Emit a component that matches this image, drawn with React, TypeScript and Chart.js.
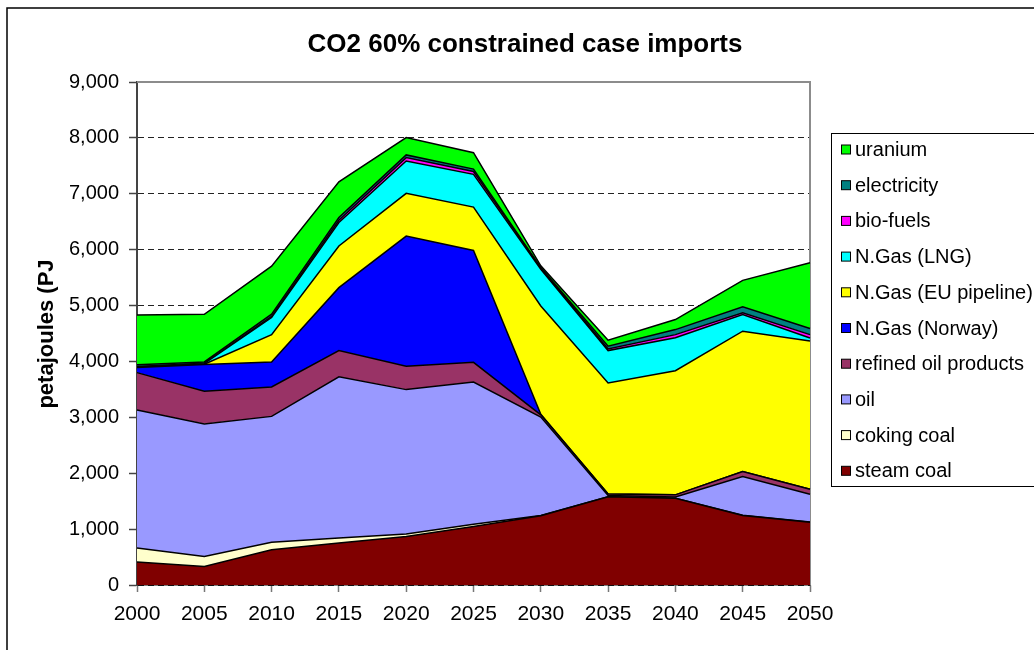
import React, { useEffect, useRef } from "react";
import { Chart, registerables } from "chart.js";

Chart.register(...registerables);

const years = ["2000", "2005", "2010", "2015", "2020", "2025", "2030", "2035", "2040", "2045", "2050"];

const steamCoal = [410, 330, 630, 750, 866, 1045, 1240, 1580, 1553, 1242, 1124];
const cokingCoal = [250, 180, 135, 90, 45, 43, 5, 0, 0, 5, 5];
const oil = [2470, 2373, 2252, 2885, 2585, 2544, 1760, 20, 20, 695, 496];
const refinedOil = [670, 585, 526, 471, 418, 352, 40, 30, 40, 90, 90];
const norway = [90, 478, 447, 1124, 2329, 2002, 10, 0, 0, 0, 0];
const euPipeline = [0, 5, 490, 746, 765, 776, 1938, 1985, 2222, 2509, 2650];
const lng = [10, 10, 305, 419, 579, 586, 657, 579, 590, 299, 55];
const bioFuels = [10, 5, 20, 40, 60, 50, 20, 30, 55, 30, 60];
const electricity = [30, 25, 40, 50, 48, 43, 10, 50, 90, 110, 110];
const uranium = [890, 852, 860, 639, 311, 295, 30, 105, 179, 471, 1175];

const seriesNames = [
  "steam coal",
  "coking coal",
  "oil",
  "refined oil products",
  "N.Gas (Norway)",
  "N.Gas (EU pipeline)",
  "N.Gas (LNG)",
  "bio-fuels",
  "electricity",
  "uranium",
];
const seriesData = [steamCoal, cokingCoal, oil, refinedOil, norway, euPipeline, lng, bioFuels, electricity, uranium];
const seriesColors = [
  "#800000",
  "#FFFFCC",
  "#9999FF",
  "#993366",
  "#0000FF",
  "#FFFF00",
  "#00FFFF",
  "#FF00FF",
  "#008080",
  "#00FF00",
];

const titleText = "CO2 60% constrained case imports";
const yTitleText = "petajoules (PJ";
const FONT = '"Liberation Sans", Arial, sans-serif';

const decorPlugin = {
  id: "decor",
  beforeDatasetsDraw(chart: any) {
    const { ctx, chartArea } = chart;
    ctx.save();
    ctx.strokeStyle = "#8c8c8c";
    ctx.lineWidth = 2;
    ctx.beginPath();
    ctx.moveTo(chartArea.left, chartArea.top);
    ctx.lineTo(chartArea.right, chartArea.top);
    ctx.lineTo(chartArea.right, chartArea.bottom);
    ctx.stroke();
    ctx.restore();
  },
  afterDraw(chart: any) {
    const { ctx } = chart;
    ctx.save();
    // outer frame
    ctx.strokeStyle = "#000";
    ctx.lineWidth = 1.5;
    ctx.beginPath();
    ctx.moveTo(7, 650);
    ctx.lineTo(7, 8);
    ctx.lineTo(1040, 8);
    ctx.stroke();

    // title
    ctx.fillStyle = "#000";
    ctx.font = `bold 26px ${FONT}`;
    ctx.textAlign = "center";
    ctx.textBaseline = "middle";
    ctx.fillText(titleText, 525, 45);

    // y title
    ctx.save();
    ctx.translate(47, 334);
    ctx.rotate(-Math.PI / 2);
    ctx.font = `bold 22px ${FONT}`;
    ctx.textAlign = "center";
    ctx.textBaseline = "middle";
    ctx.fillText(yTitleText, 0, 0);
    ctx.restore();

    // legend
    ctx.strokeStyle = "#000";
    ctx.lineWidth = 1;
    ctx.fillStyle = "#fff";
    ctx.fillRect(831.5, 133.5, 220, 353);
    ctx.strokeRect(831.5, 133.5, 220, 353);
    ctx.font = `20px ${FONT}`;
    ctx.textAlign = "left";
    ctx.textBaseline = "middle";
    const n = seriesNames.length;
    for (let i = 0; i < n; i++) {
      const idx = n - 1 - i;
      const cy = 149.5 + i * 35.7;
      ctx.fillStyle = seriesColors[idx];
      ctx.fillRect(841.5, cy - 4.5, 9, 9);
      ctx.strokeStyle = "#000";
      ctx.strokeRect(841.5, cy - 4.5, 9, 9);
      ctx.fillStyle = "#000";
      ctx.fillText(seriesNames[idx], 855, cy + 1);
    }
    ctx.restore();
  },
};

export default function App() {
  const canvasRef = useRef<HTMLCanvasElement | null>(null);

  useEffect(() => {
    const canvas = canvasRef.current;
    if (!canvas) return;
    const chart = new Chart(canvas, {
      type: "line",
      data: {
        labels: years,
        datasets: seriesData.map((d, i) => ({
          label: seriesNames[i],
          data: d,
          backgroundColor: seriesColors[i],
          borderColor: "#000",
          borderWidth: 1.5,
          pointRadius: 0,
          pointHoverRadius: 0,
          tension: 0,
          fill: i === 0 ? "origin" : "-1",
        })),
      },
      options: {
        responsive: false,
        animation: false,
        devicePixelRatio: 1,
        layout: { padding: { left: 0, top: 82, right: 224, bottom: 0 } },
        plugins: {
          legend: { display: false },
          title: { display: false },
          tooltip: { enabled: false },
        },
        scales: {
          x: {
            offset: false,
            afterFit: (s: any) => {
              s.height = 65;
            },
            grid: {
              drawOnChartArea: false,
              drawTicks: true,
              tickLength: 7,
              tickColor: "#777",
              tickWidth: 1.5,
            },
            border: { display: true, color: "#000", width: 1.5 },
            ticks: {
              autoSkip: false,
              maxRotation: 0,
              color: "#000",
              padding: 10,
              font: { family: FONT, size: 21 },
            },
          },
          y: {
            stacked: true,
            min: 0,
            max: 9000,
            afterFit: (s: any) => {
              s.width = 137;
            },
            grid: {
              color: "#222",
              lineWidth: 1,
              drawTicks: true,
              tickLength: 8,
              tickColor: "#444",
              tickWidth: 1.5,
              tickBorderDash: [],
            },
            border: { display: true, color: "#444", width: 2, dash: [6, 4] },
            ticks: {
              stepSize: 1000,
              color: "#000",
              padding: 10,
              font: { family: FONT, size: 20 },
            },
          },
        },
      },
      plugins: [decorPlugin],
    });
    return () => chart.destroy();
  }, []);

  return (
    <div style={{ position: "fixed", left: 0, top: 0, width: 1034, height: 650, background: "#fff" }}>
      <canvas ref={canvasRef} width={1034} height={650} style={{ width: 1034, height: 650, display: "block" }} />
    </div>
  );
}
